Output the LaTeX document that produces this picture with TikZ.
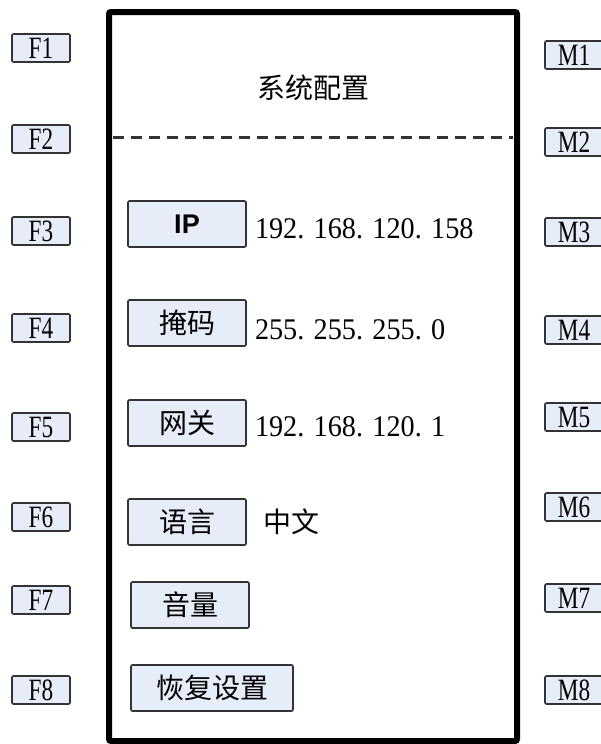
\documentclass[tikz,border=0pt]{standalone}
\usepackage{fontspec}
\setmainfont{Liberation Serif}
\newfontfamily\cjkfont{Noto Sans CJK SC}
\newfontfamily\keyfont[FakeStretch=0.75]{Liberation Serif}
\newfontfamily\numfont[FakeStretch=0.94]{Liberation Serif}
\newfontfamily\ipfont{Liberation Sans}
\usetikzlibrary{positioning}
\definecolor{keyfill}{RGB}{230,236,248}
\tikzset{
  softkey/.style={draw=black!80, fill=keyfill, line width=1.6pt, rounded corners=1.2pt,
    minimum width=58pt, minimum height=28pt, inner sep=0pt,
    font=\keyfont\fontsize{31}{31}\selectfont},
  menukey/.style={draw=black!80, fill=keyfill, line width=1.6pt, rounded corners=1.2pt,
    minimum width=118pt, minimum height=46pt, inner sep=0pt,
    font=\cjkfont\fontsize{28}{28}\selectfont},
  value/.style={inner sep=0pt, font=\numfont\fontsize{30}{30}\selectfont},
}

\begin{document}
\begin{tikzpicture}[x=1pt,y=-1pt]
  \useasboundingbox (0,0) rectangle (601,744);
  % screen
  \draw[line width=6pt, rounded corners=2pt] (109,12) rectangle (517,741);
  \node[font=\cjkfont\fontsize{28}{28}\selectfont] (title) at (313,88) {系统配置};
  \draw[line width=3pt, dash pattern=on 11pt off 7pt, black!80] (113,137) -- (513,137);
  % soft keys
  \foreach \i/\y in {1/48,2/139,3/231,4/328,5/427,6/517,7/600,8/690}
    \node[softkey] (F\i) at (41,\y) {F\i};
  \foreach \i/\y in {1/55,2/142,3/232,4/330,5/417,6/507,7/598,8/690}
    \node[softkey] (M\i) at (574,\y) {M\i};
  % menu
  \node[menukey, font=\ipfont\bfseries\fontsize{27}{27}\selectfont] (ip) at (187,224) {IP};
  \node[menukey] (mask) at (187,323) {掩码};
  \node[menukey] (gateway) at (187,423) {网关};
  \node[menukey] (lang) at (187,522) {语言};
  \node[menukey] (volume) at (190,605) {音量};
  \node[menukey, minimum width=162pt] (reset) at (212,688) {恢复设置};
  \node[value, right=8pt of ip, yshift=-5pt] (ipval) {192. 168. 120. 158};
  \node[value, right=8pt of mask, yshift=-7pt] (maskval) {255. 255. 255. 0};
  \node[value, right=8pt of gateway, yshift=-4pt] (gwval) {192. 168. 120. 1};
  \node[right=16pt of lang, inner sep=0pt, font=\cjkfont\fontsize{28}{28}\selectfont] (langval) {中文};
\end{tikzpicture}
\end{document}
